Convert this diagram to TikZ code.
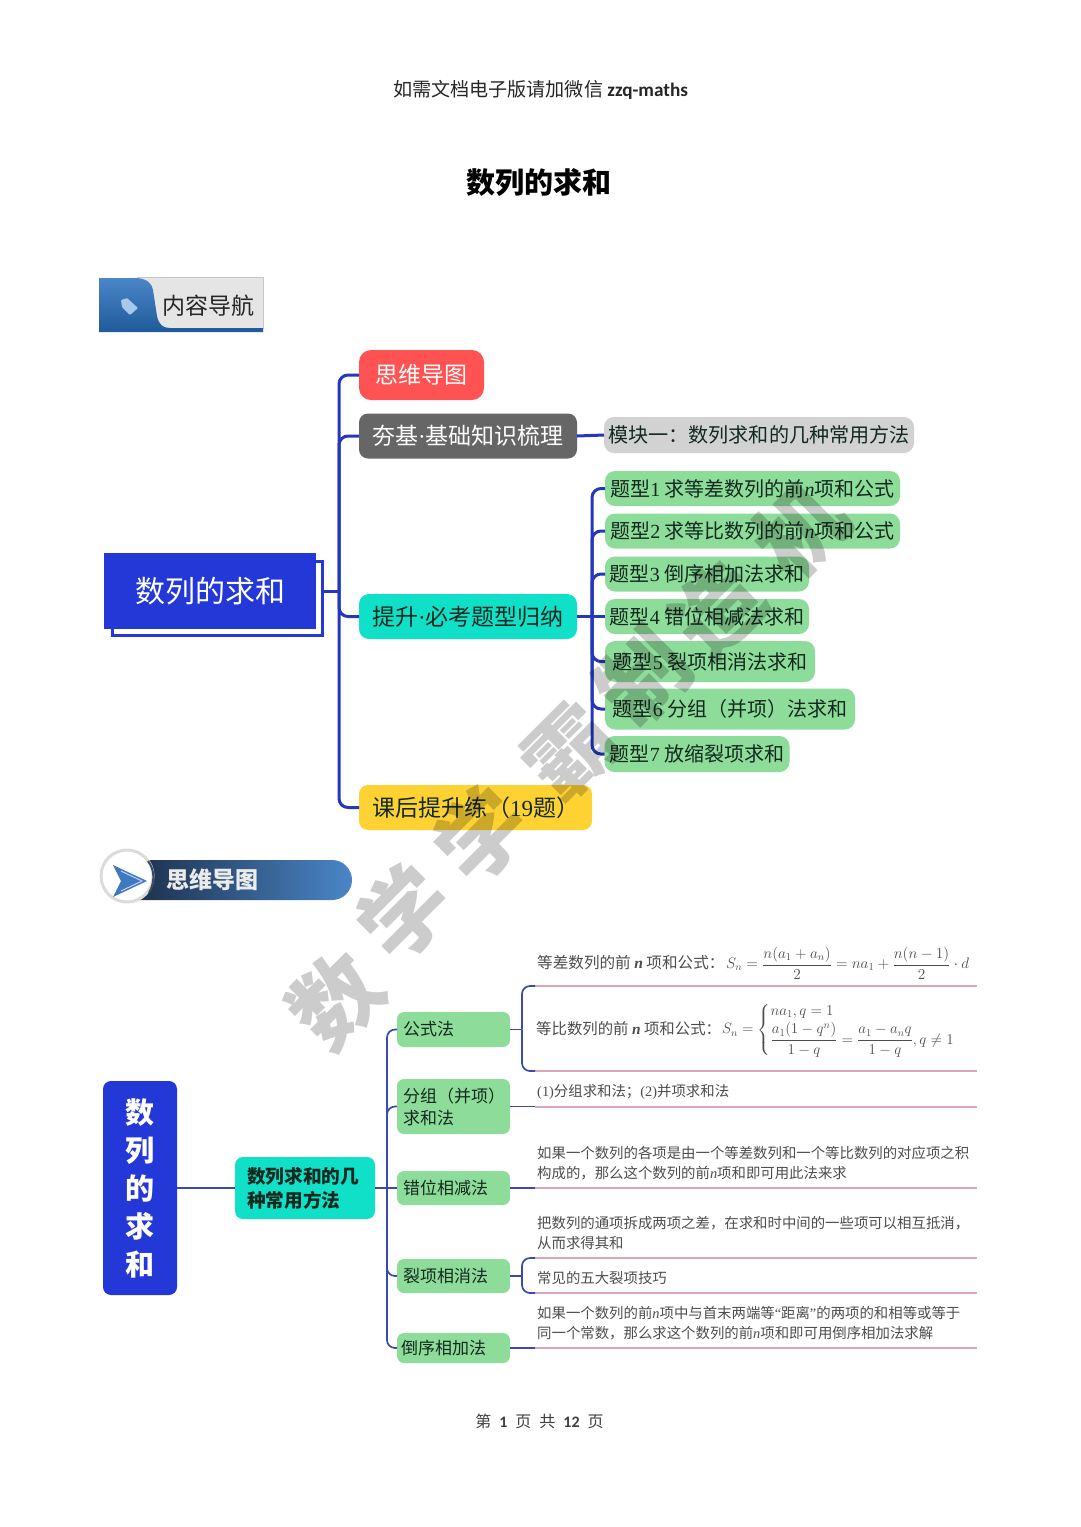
\RequirePackage{fix-cm}
\documentclass[tikz,border=0pt]{standalone}
\usepackage{amsmath}
\usepackage{fontspec}
\setmainfont{Noto Sans CJK SC}
\newfontfamily\serfont{Liberation Serif}
\newfontfamily\carfont{Carlito}
\newcommand\fsz[2]{\fontsize{#1}{#2}\selectfont}
\newcommand\itn{{\serfont\itshape n}}
\newcommand\dg[1]{{\serfont #1}}
\definecolor{rootblue}{HTML}{2338D6}
\definecolor{linkblue}{HTML}{2338BE}
\definecolor{thinblue}{HTML}{3A4BB0}
\definecolor{redbox}{HTML}{FF5252}
\definecolor{darkbox}{HTML}{666666}
\definecolor{cyanbox}{HTML}{10E0C8}
\definecolor{yellowbox}{HTML}{FFD233}
\definecolor{lightbox}{HTML}{D2D2D2}
\definecolor{greenbox}{HTML}{8EDC9A}
\definecolor{pinkline}{HTML}{DBA6BC}
\definecolor{graytext}{HTML}{4D4D4D}
\definecolor{inktext}{HTML}{13291F}
\definecolor{tabtop}{HTML}{4A86C8}
\definecolor{tabbot}{HTML}{1F5A9A}
\definecolor{bandark}{HTML}{1C2E48}
\definecolor{tagblue}{HTML}{A9C8EE}
\definecolor{arrowblue}{HTML}{407ABE}
\definecolor{ringdark}{HTML}{3C4B5F}
\tikzset{
  box/.style={inner sep=0pt,outer sep=0pt,rounded corners=#1,align=center},
  box/.default=11pt,
  biglink/.style={draw=linkblue,line width=3pt,rounded corners=9pt},
  smalllink/.style={draw=thinblue,line width=1.7pt,rounded corners=8pt},
  pinkrule/.style={draw=pinkline,line width=2pt},
  bigtext/.style={font=\fsz{23}{27}},
  typetext/.style={font=\fsz{20}{24},text=inktext},
  typebox/.style={box=10pt,fill=greenbox,typetext},
  methodbox/.style={box=7pt,fill=greenbox,font=\fsz{17}{22},text=inktext,align=left,inner xsep=6pt},
  note/.style={anchor=west,inner sep=0pt,font=\fsz{14.4}{20},text=graytext,align=left},
}
\begin{document}
\begin{tikzpicture}[x=1pt,y=-1pt]
\useasboundingbox (0,0) rectangle (1080,1527);
\fill[white] (0,0) rectangle (1080,1527);

% header
\node[inner sep=0pt,font=\fsz{19.1}{22},text=black!85] (hdr) at (540.5,89.5) {如需文档电子版请加微信 {\carfont\bfseries\fsz{19.2}{22}zzq-maths}};
\node[inner sep=0pt,font=\fsz{29}{34}\bfseries] (ttl) at (539,183) {数列的求和};

% content nav tab
\fill[fill=black!10] (99,278) rectangle (263,329);
\draw[draw=black!22,line width=1pt] (137,277.5) -- (263.5,277.5) -- (263.5,329);
\shade[top color=tabtop,bottom color=tabbot]
  (99,278) -- (137,278) .. controls (148,279) and (152,284) .. (153,290) -- (157,316) .. controls (159,325) and (163,328) .. (170,328) -- (263,328) -- (263,332) -- (99,332) -- cycle;
\fill[fill=tagblue,rounded corners=0.8pt] (121,300) -- (127,298) -- (138,308) -- (130,315) -- (122,307) -- cycle;
\node[inner sep=0pt,font=\fsz{23}{27},text=black!85] (navt) at (208,306) {内容导航};

% first map: nodes
\draw[draw=rootblue,line width=3pt,fill=white] (112,561) rectangle (322,635);
\coordinate (rootedge) at (322,591);
\node[box=0pt,fill=rootblue,minimum width=212pt,minimum height=76pt,text=white,font=\fsz{30}{34}] (rootA) at (210,591) {\raisebox{-2pt}{数列的求和}};

\node[box=12pt,fill=redbox,minimum width=125pt,minimum height=50pt,text=white,bigtext] (mapA) at (421.5,375) {思维导图};
\node[box=9pt,fill=darkbox,minimum width=218pt,minimum height=45pt,text=white,bigtext] (baseA) at (468,436) {夯基{\serfont ·}基础知识梳理};
\node[box=10pt,fill=cyanbox,minimum width=218pt,minimum height=45pt,text=inktext,bigtext] (typeA) at (468,616.5) {提升{\serfont ·}必考题型归纳};
\node[box=9pt,fill=yellowbox,minimum width=233pt,minimum height=45pt,text=inktext,bigtext] (homeA) at (475.5,807.5) {课后提升练（\dg{19}题）};
\node[box=10pt,fill=lightbox,minimum width=310pt,minimum height=36pt,font=\fsz{20.1}{24},text=inktext] (modA) at (759,435) {模块一：数列求和的几种常用方法};

\node[typebox,minimum width=295pt,minimum height=35pt] (t1) at (752.5,488.5) {题型\dg{1} 求等差数列的前\itn 项和公式};
\node[typebox,minimum width=295pt,minimum height=35pt] (t2) at (752.5,531) {题型\dg{2} 求等比数列的前\itn 项和公式};
\node[typebox,minimum width=204pt,minimum height=35pt] (t3) at (707,574) {题型\dg{3} 倒序相加法求和};
\node[typebox,minimum width=204pt,minimum height=35pt] (t4) at (707,616.5) {题型\dg{4} 错位相减法求和};
\node[typebox,minimum width=210pt,minimum height=41pt] (t5) at (710,661.5) {题型\dg{5} 裂项相消法求和};
\node[typebox,minimum width=250pt,minimum height=41pt] (t6) at (730,709) {题型\dg{6} 分组（并项）法求和};
\node[typebox,minimum width=185pt,minimum height=36pt] (t7) at (697,754) {题型\dg{7} 放缩裂项求和};

% first map: links
\coordinate (hubA) at (339,591);
\coordinate (hubB) at (592,616.5);
\draw[biglink,rounded corners=0pt] (rootedge) -- (hubA);
\draw[biglink] (mapA.west) -| (hubA);
\draw[biglink] (homeA.west) -| (hubA);
\draw[biglink] (baseA.west) -| (hubA);
\draw[biglink] (typeA.west) -| (hubA);
\draw[biglink,rounded corners=0pt] (baseA.east) -- (modA.west);
\draw[biglink,rounded corners=0pt] (typeA.east) -- (t4.west);
\foreach \n in {t1,t2,t3,t5,t6,t7} {\draw[biglink] (\n.west) -| (hubB);}

% mind-map banner
\shade[left color=bandark,right color=tabtop]
  (130,860) [rounded corners=20pt] -- (352,860) -- (352,900) [sharp corners] -- (130,900) -- cycle;
\draw[draw=black!14,line width=3pt,fill=white] (127,876) circle (26pt);
\draw[draw=ringdark,line width=2pt] (148,861) .. controls (155,870) and (155,882) .. (149,893);
\fill[fill=arrowblue] (113,865) -- (147,881) -- (113,897) -- (121,881) -- cycle;
\draw[draw=white!80!blue,line width=1pt] (121,871) -- (142,881) -- (121,891);
\node[inner sep=0pt,font=\fsz{23}{27}\bfseries,text=white!92!black] (bant) at (212.5,880) {思维导图};

% second map: nodes
\node[box=8pt,fill=rootblue,minimum width=74pt,minimum height=214pt,text=white,font=\fsz{29}{38}\bfseries] (rootB) at (140,1188) {数\\列\\的\\求\\和};
\node[box=8pt,fill=cyanbox,minimum width=140pt,minimum height=62pt,text width=116pt,font=\fsz{18.7}{24}\bfseries,text=inktext,align=left] (midB) at (305,1188) {数列求和的几\\种常用方法};
\node[methodbox,minimum height=35pt,text width=101pt] (m1) at (453.5,1029.5) {公式法};
\node[methodbox,minimum height=55pt,text width=101pt] (m2) at (453.5,1106.5) {分组（并项）\\求和法};
\node[methodbox,minimum height=34pt,text width=101pt] (m3) at (453.5,1188) {错位相减法};
\node[methodbox,minimum height=34pt,text width=101pt] (m4) at (453.5,1276) {裂项相消法};
\node[methodbox,minimum height=30pt,text width=105pt,inner xsep=4pt] (m5) at (453.5,1348) {倒序相加法};

% second map: links
\coordinate (hubC) at (387,1188);
\draw[smalllink,rounded corners=0pt] (rootB.east |- midB) -- (midB.west);
\draw[smalllink,rounded corners=0pt] (midB.east) -- (m3.west);
\foreach \n in {m1,m2,m4,m5} {\draw[smalllink] (\n.west) -| (hubC);}

% second map: rules and brackets
\coordinate (r1a) at (535,986);   \coordinate (r1b) at (977,986);
\coordinate (r2a) at (535,1071);  \coordinate (r2b) at (977,1071);
\coordinate (r3a) at (535,1106.5);\coordinate (r3b) at (977,1106.5);
\coordinate (r4a) at (535,1188);  \coordinate (r4b) at (977,1188);
\coordinate (r5a) at (535,1258);  \coordinate (r5b) at (977,1258);
\coordinate (r6a) at (535,1293);  \coordinate (r6b) at (977,1293);
\coordinate (r7a) at (535,1348);  \coordinate (r7b) at (977,1348);
\coordinate (brA) at (522,1029.5);
\coordinate (brB) at (522,1276);
\foreach \n in {1,...,7} {\draw[pinkrule] (r\n a) -- (r\n b);}
\draw[smalllink,rounded corners=0pt] (m1.east) -- (brA);
\draw[smalllink] (r1a) -| (brA);
\draw[smalllink] (r2a) -| (brA);
\draw[smalllink,rounded corners=0pt] (m2.east) -- (r3a);
\draw[smalllink,rounded corners=0pt] (m3.east) -- (r4a);
\draw[smalllink,rounded corners=0pt] (m4.east) -- (brB);
\draw[smalllink] (r5a) -| (brB);
\draw[smalllink] (r6a) -| (brB);
\draw[smalllink,rounded corners=0pt] (m5.east) -- (r7a);

% second map: notes
\node[note,font=\fsz{15.6}{20}] (f1t) at (537,963) {等差数列的前 {\serfont\bfseries\itshape n} 项和公式：};
\node[note,font=\fsz{15.2}{18}] (f1m) at (726,963) {$S_n=\dfrac{n(a_1+a_n)}{2}=na_1+\dfrac{n(n-1)}{2}\cdot d$};
\node[note,font=\fsz{15.4}{20}] (f2t) at (536,1029) {等比数列的前 {\serfont\bfseries\itshape n} 项和公式：};
\node[note,font=\fsz{15}{18}] (f2m) at (722,1030) {$S_n=\left\{\begin{array}{@{}l@{}}na_1,q=1\\[2pt] \dfrac{a_1(1-q^n)}{1-q}=\dfrac{a_1-a_nq}{1-q},q\neq 1\end{array}\right.$};
\node[note] (n2) at (537,1092) {\dg{(1)}分组求和法；\dg{(2)}并项求和法};
\node[note] (n3) at (537,1163) {如果一个数列的各项是由一个等差数列和一个等比数列的对应项之积\\构成的，那么这个数列的前\itn 项和即可用此法来求};
\node[note] (n4) at (537,1233) {把数列的通项拆成两项之差，在求和时中间的一些项可以相互抵消，\\从而求得其和};
\node[note] (n5) at (537,1278) {常见的五大裂项技巧};
\node[note] (n6) at (537,1323) {如果一个数列的前\itn 项中与首末两端等{\serfont “}距离{\serfont ”}的两项的和相等或等于\\同一个常数，那么求这个数列的前\itn 项和即可用倒序相加法求解};

% footer
\node[inner sep=0pt,font=\fsz{16}{18},text=black!75] (foot) at (539.5,1421) {第\hspace{8pt}{\carfont\bfseries 1}\hspace{8pt}页\hspace{8pt}共\hspace{8pt}{\carfont\bfseries 12}\hspace{8pt}页};

% watermark
\foreach \ch/\px/\py [count=\i] in {数/336/1000,学/403/912,学/480/834,霸/570/752,制/643/677,造/717/610,机/800/530}
  \node[inner sep=0pt,rotate=45,font=\fsz{88}{94}\bfseries,text=black,text opacity=0.2] (wm\i) at (\px,\py) {\ch};
\end{tikzpicture}
\end{document}
